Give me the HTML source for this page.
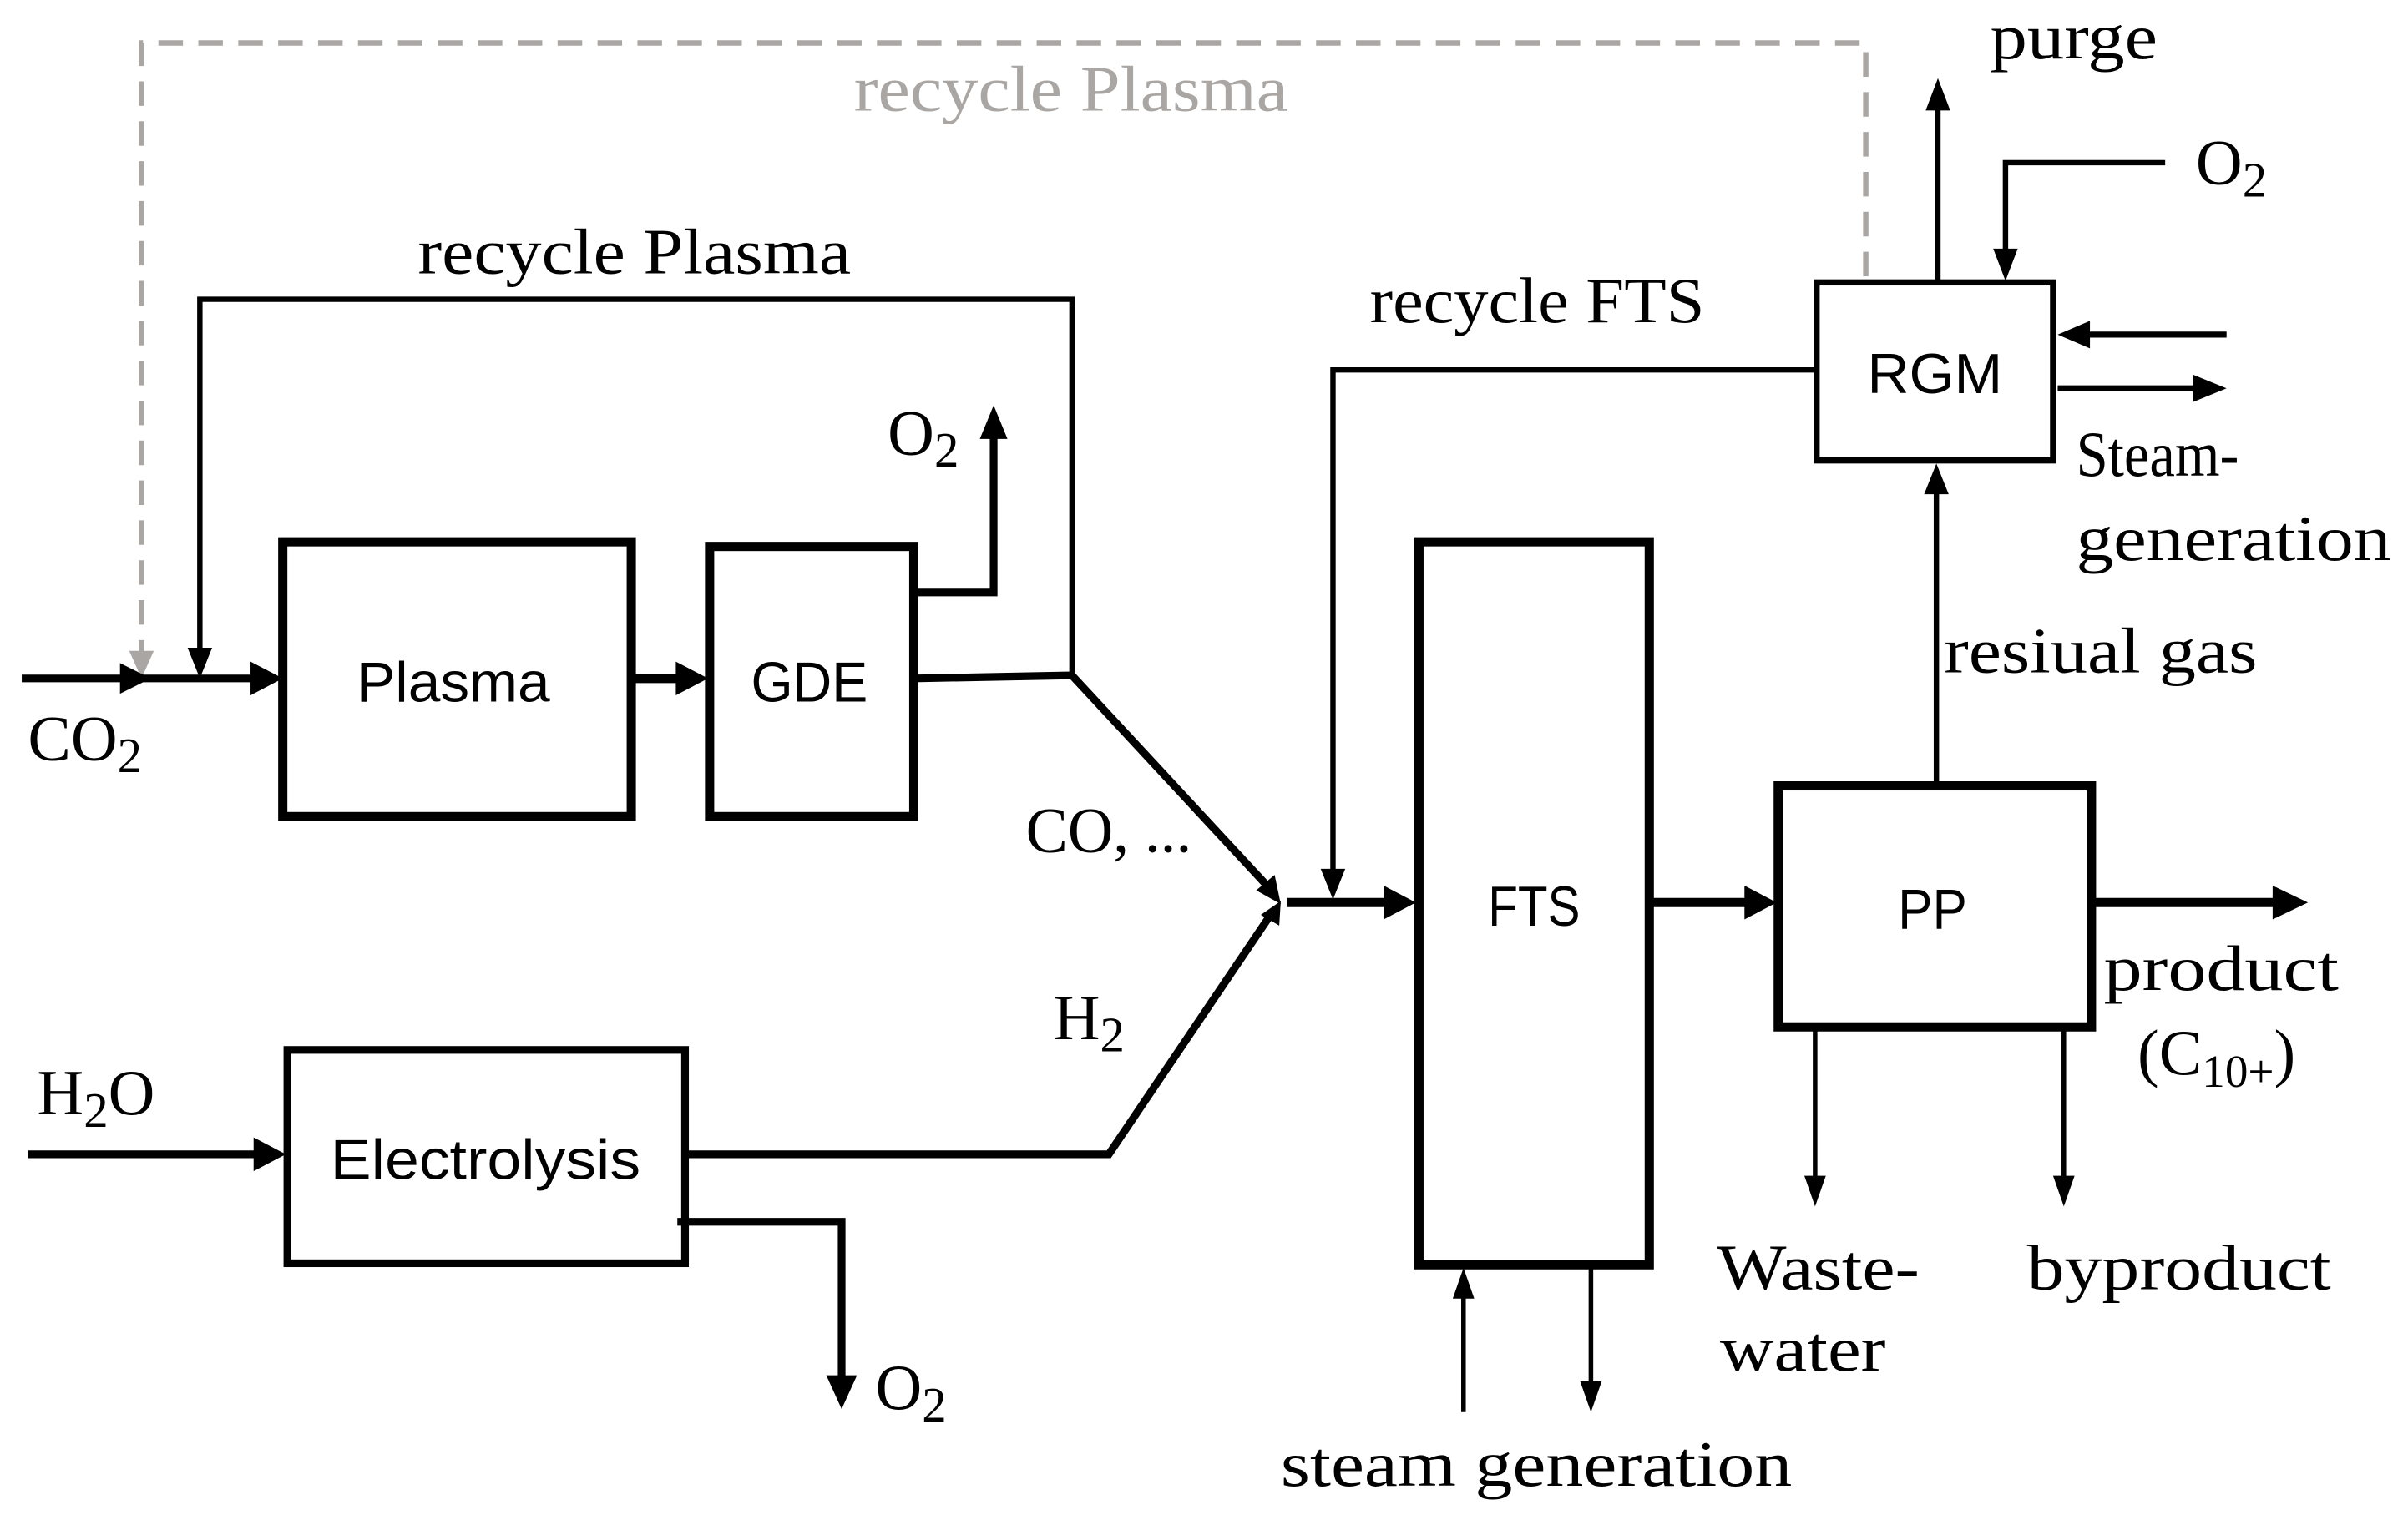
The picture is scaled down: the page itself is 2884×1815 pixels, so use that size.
<!DOCTYPE html>
<html><head><style>html,body{margin:0;padding:0;background:#fff}svg{display:block}</style></head>
<body>
<svg xmlns="http://www.w3.org/2000/svg" width="2884" height="1815" viewBox="0 0 1568 987">
<rect width="1568" height="987" fill="#fff"/>
<g fill="none" stroke="#000">
<polyline points="1215,180 1215,28 92,28 92,428" stroke="#aaa6a3" stroke-width="3.5" stroke-dasharray="16,10"/>
<path d="M84,424L100,424L92,442z" fill="#aaa6a3" stroke="none"/>
<polyline points="698,440 698,195 130,195 130,428" stroke-width="3.5"/>
<path d="M122,422L138,422L130,442z" fill="#000" stroke="none"/>
<line x1="14" y1="442" x2="170" y2="442" stroke-width="5"/>
<path d="M78,432L98,442L78,452z" fill="#000" stroke="none"/>
<path d="M163,431L184,442L163,453z" fill="#000" stroke="none"/>
<rect x="184" y="353" width="227" height="179" stroke-width="6"/>
<rect x="462" y="356" width="133" height="176" stroke-width="6"/>
<rect x="187" y="684" width="259" height="139" stroke-width="5"/>
<rect x="924" y="353" width="150" height="471" stroke-width="6"/>
<rect x="1158" y="512" width="204" height="157" stroke-width="6"/>
<rect x="1183" y="184" width="154" height="116" stroke-width="4"/>
<line x1="411" y1="442" x2="445" y2="442" stroke-width="6"/>
<path d="M440,431L461,442L440,453z" fill="#000" stroke="none"/>
<polyline points="595,386 647,386 647,285" stroke-width="5"/>
<path d="M638,286L647,264L656,286z" fill="#000" stroke="none"/>
<polyline points="595,442 698,440 826,578" stroke-width="5"/>
<path d="M818,580L834,589L830,570z" fill="#000" stroke="none"/>
<line x1="18" y1="752" x2="170" y2="752" stroke-width="5"/>
<path d="M165,741L186,752L165,763z" fill="#000" stroke="none"/>
<polyline points="446,752 722,752 826,598" stroke-width="5"/>
<path d="M821,596L834,587L833,603z" fill="#000" stroke="none"/>
<polyline points="441,796 548,796 548,898" stroke-width="5"/>
<path d="M538,896L548,918L558,896z" fill="#000" stroke="none"/>
<line x1="838" y1="588" x2="905" y2="588" stroke-width="6"/>
<path d="M901,577L922,588L901,599z" fill="#000" stroke="none"/>
<polyline points="1183,241 868,241 868,568" stroke-width="3.5"/>
<path d="M860,566L876,566L868,586z" fill="#000" stroke="none"/>
<line x1="1074" y1="588" x2="1140" y2="588" stroke-width="6"/>
<path d="M1136,577L1157,588L1136,599z" fill="#000" stroke="none"/>
<line x1="1362" y1="588" x2="1484" y2="588" stroke-width="6"/>
<path d="M1480,577L1503,588L1480,599z" fill="#000" stroke="none"/>
<line x1="1182" y1="669" x2="1182" y2="768" stroke-width="3"/>
<path d="M1175,766L1189,766L1182,786z" fill="#000" stroke="none"/>
<line x1="1344" y1="669" x2="1344" y2="768" stroke-width="3"/>
<path d="M1337,766L1351,766L1344,786z" fill="#000" stroke="none"/>
<line x1="953" y1="920" x2="953" y2="843" stroke-width="3"/>
<path d="M946,846L960,846L953,826z" fill="#000" stroke="none"/>
<line x1="1036" y1="826" x2="1036" y2="902" stroke-width="3"/>
<path d="M1029,900L1043,900L1036,920z" fill="#000" stroke="none"/>
<line x1="1261" y1="511" x2="1261" y2="320" stroke-width="3.5"/>
<path d="M1253,322L1269,322L1261,302z" fill="#000" stroke="none"/>
<line x1="1262" y1="183" x2="1262" y2="70" stroke-width="3.5"/>
<path d="M1254,72L1270,72L1262,51z" fill="#000" stroke="none"/>
<polyline points="1410,106 1306,106 1306,164" stroke-width="3.5"/>
<path d="M1298,162L1314,162L1306,183z" fill="#000" stroke="none"/>
<line x1="1450" y1="218" x2="1358" y2="218" stroke-width="4"/>
<path d="M1361,209L1340,218L1361,227z" fill="#000" stroke="none"/>
<line x1="1340" y1="253" x2="1430" y2="253" stroke-width="4"/>
<path d="M1428,244L1450,253L1428,262z" fill="#000" stroke="none"/>
</g>
<g font-family="Liberation Sans, sans-serif" font-size="37" fill="#000">
<text x="232" y="457" textLength="126" lengthAdjust="spacingAndGlyphs">Plasma</text>
<text x="489" y="457" textLength="76" lengthAdjust="spacingAndGlyphs">GDE</text>
<text x="215" y="768" textLength="202" lengthAdjust="spacingAndGlyphs">Electrolysis</text>
<text x="969" y="603" textLength="60" lengthAdjust="spacingAndGlyphs">FTS</text>
<text x="1236" y="605" textLength="45" lengthAdjust="spacingAndGlyphs">PP</text>
<text x="1216" y="256" textLength="88" lengthAdjust="spacingAndGlyphs">RGM</text>
</g>
<g font-family="Liberation Serif, serif" font-size="42" fill="#000">
<text x="556" y="72" fill="#aaa6a3" textLength="283" lengthAdjust="spacingAndGlyphs">recycle Plasma</text>
<text x="272" y="178" textLength="282" lengthAdjust="spacingAndGlyphs">recycle Plasma</text>
<text x="892" y="210" textLength="218" lengthAdjust="spacingAndGlyphs">recycle FTS</text>
<text x="18" y="495">CO<tspan font-size="32" dy="8">2</tspan></text>
<text x="578" y="296">O<tspan font-size="32" dy="8">2</tspan></text>
<text x="668" y="555" textLength="108" lengthAdjust="spacingAndGlyphs">CO, ...</text>
<text x="686" y="677">H<tspan font-size="32" dy="8">2</tspan></text>
<text x="24" y="726">H<tspan font-size="32" dy="8">2</tspan><tspan dy="-8">O</tspan></text>
<text x="570" y="918">O<tspan font-size="32" dy="8">2</tspan></text>
<text x="1296" y="38" textLength="109" lengthAdjust="spacingAndGlyphs">purge</text>
<text x="1430" y="120">O<tspan font-size="32" dy="8">2</tspan></text>
<text x="1352" y="310" textLength="106" lengthAdjust="spacingAndGlyphs">Steam-</text>
<text x="1352" y="365" textLength="205" lengthAdjust="spacingAndGlyphs">generation</text>
<text x="1266" y="438" textLength="204" lengthAdjust="spacingAndGlyphs">resiual gas</text>
<text x="1370" y="645" textLength="153" lengthAdjust="spacingAndGlyphs">product</text>
<text x="1392" y="700">(C<tspan font-size="30" dy="8">10+</tspan><tspan dy="-8">)</tspan></text>
<text x="1118" y="840" textLength="132" lengthAdjust="spacingAndGlyphs">Waste-</text>
<text x="1120" y="893" textLength="108" lengthAdjust="spacingAndGlyphs">water</text>
<text x="1320" y="840" textLength="198" lengthAdjust="spacingAndGlyphs">byproduct</text>
<text x="834" y="968" textLength="333" lengthAdjust="spacingAndGlyphs">steam generation</text>
</g>
</svg>
</body></html>
